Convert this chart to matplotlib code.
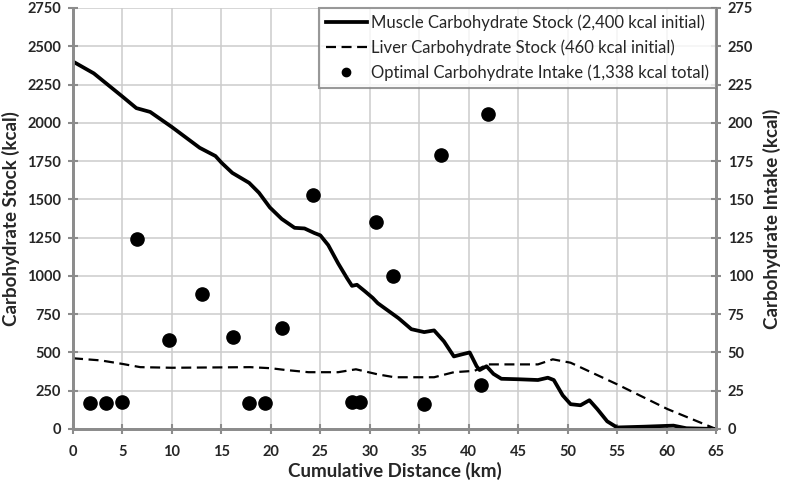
import matplotlib.pyplot as plt
from matplotlib.lines import Line2D

# ─── Data ─────────────────────────────────────────────────────────────────────

# Muscle carbohydrate stock (kcal) vs cumulative distance (km)
muscle_km = [0, 2.1, 5.0, 6.4, 7.8, 10.0, 12.8, 14.4, 15.0, 16.1, 17.8, 18.8,
             19.9, 21.1, 22.4, 23.4, 24.4, 25.0, 25.8, 26.8, 27.7, 28.2, 28.7,
             29.5, 30.3, 30.8, 32.9, 34.2, 35.5, 36.5, 37.5, 38.5, 39.4, 40.1,
             40.8, 41.1, 41.8, 42.5, 43.3, 45.0, 47.0, 48.0, 48.6, 49.5, 50.3,
             51.3, 52.2, 53.0, 54.0, 55.0, 57.7, 60.7, 62.0, 65.0]
muscle_kcal = [2400, 2323, 2171, 2096, 2071, 1972, 1837, 1783, 1740, 1673, 1608,
               1543, 1447, 1372, 1314, 1310, 1280, 1265, 1201, 1082, 985, 935,
               942, 900, 856, 822, 724, 652, 633, 644, 572, 474, 489, 500,
               410, 385, 410, 360, 328, 325, 320, 335, 320, 220, 162,
               155, 188, 130, 50, 10, 15, 22, 5, 0]

# Liver carbohydrate stock (kcal)
liver_km = [0, 2.8, 5.0, 6.8, 10.0, 17.9, 20.0, 21.4, 23.8, 26.8, 28.6, 30.8,
            32.5, 36.5, 38.5, 40.6, 41.9, 47.0, 48.5, 50.3, 55.0, 60.1, 65.0]
liver_kcal = [462, 448, 425, 404, 400, 404, 397, 386, 371, 371, 390, 357,
              338, 338, 371, 380, 422, 422, 455, 433, 292, 130, 0]

# Optimal carbohydrate intake (kcal) at each feeding point
intake_km = [1.7, 3.3, 4.9, 6.5, 9.7, 13.0, 16.2, 17.8, 19.4, 21.1, 24.3,
             28.2, 29.0, 30.6, 32.3, 35.5, 37.2, 41.2, 42.0]
intake_kcal = [17, 17, 17.5, 124, 58, 88.5, 60, 17, 17, 66, 153,
               17.5, 17.5, 135, 100, 16.5, 179, 29, 206]

x_ticks = list(range(0, 70, 5))
left_ticks = list(range(0, 2751, 250))
right_ticks = list(range(0, 276, 25))

legend_labels = ["Muscle Carbohydrate Stock (2,400 kcal initial)",
                 "Liver Carbohydrate Stock (460 kcal initial)",
                 "Optimal Carbohydrate Intake (1,338 kcal total)"]

# ─── Styling ──────────────────────────────────────────────────────────────────

plt.rcParams["font.family"] = ["Lato", "DejaVu Sans"]
axis_grey = "#8c8c8c"
text_col = "#262626"

fig = plt.figure(figsize=(7.87, 4.8), dpi=100)
ax = fig.add_axes([0.0928, 0.10625, 0.8170, 0.8771])
ax2 = ax.twinx()

ax.plot(muscle_km, muscle_kcal, color="black", lw=2.7,
        solid_joinstyle="round", solid_capstyle="round", zorder=3)
ax.plot(liver_km, liver_kcal, color="black", lw=1.6, dashes=(4.5, 2.5), zorder=3)
ax2.plot(intake_km, intake_kcal, "o", color="black", ms=9.5, zorder=4)

ax.set_xlim(0, 65)
ax.set_ylim(0, 2750)
ax2.set_ylim(0, 275)
ax.set_xticks(x_ticks)
ax.set_yticks(left_ticks)
ax2.set_yticks(right_ticks)

ax.grid(True, color="#cccccc", lw=1.1)
ax.set_axisbelow(True)

for a in (ax, ax2):
    for side in ("left", "right", "bottom"):
        a.spines[side].set_color(axis_grey)
        a.spines[side].set_linewidth(2)
    a.spines["top"].set_visible(False)
    a.tick_params(direction="inout", length=7, width=1.5, color=axis_grey,
                  labelsize=10.5, labelcolor=text_col, pad=5)
ax.tick_params(axis="x", pad=8)
for lab in ax.get_xticklabels() + ax.get_yticklabels() + ax2.get_yticklabels():
    lab.set_fontweight("bold")

ax.set_xlabel("Cumulative Distance (km)", fontsize=13.5, fontweight="bold",
              color=text_col, labelpad=2)
ax.set_ylabel("Carbohydrate Stock (kcal)", fontsize=13.5, fontweight="bold",
              color=text_col, labelpad=5)
ax2.set_ylabel("Carbohydrate Intake (kcal)", fontsize=13.5, fontweight="bold",
               color=text_col, labelpad=7)

handles = [Line2D([], [], color="black", lw=2.7),
           Line2D([], [], color="black", lw=1.6, dashes=(4.5, 2.5)),
           Line2D([], [], ls="none", marker="o", color="black", ms=6)]
leg = ax2.legend(handles, legend_labels, loc="upper right",
                 bbox_to_anchor=(1.0, 1.0), fontsize=12, frameon=True,
                 fancybox=False, handlelength=2.5, handletextpad=0.25,
                 borderpad=0.4, labelspacing=0.5, borderaxespad=0)
leg.get_frame().set_edgecolor("#808080")
leg.get_frame().set_linewidth(1.5)
for t in leg.get_texts():
    t.set_color(text_col)

fig.savefig("out.png", dpi=100)
